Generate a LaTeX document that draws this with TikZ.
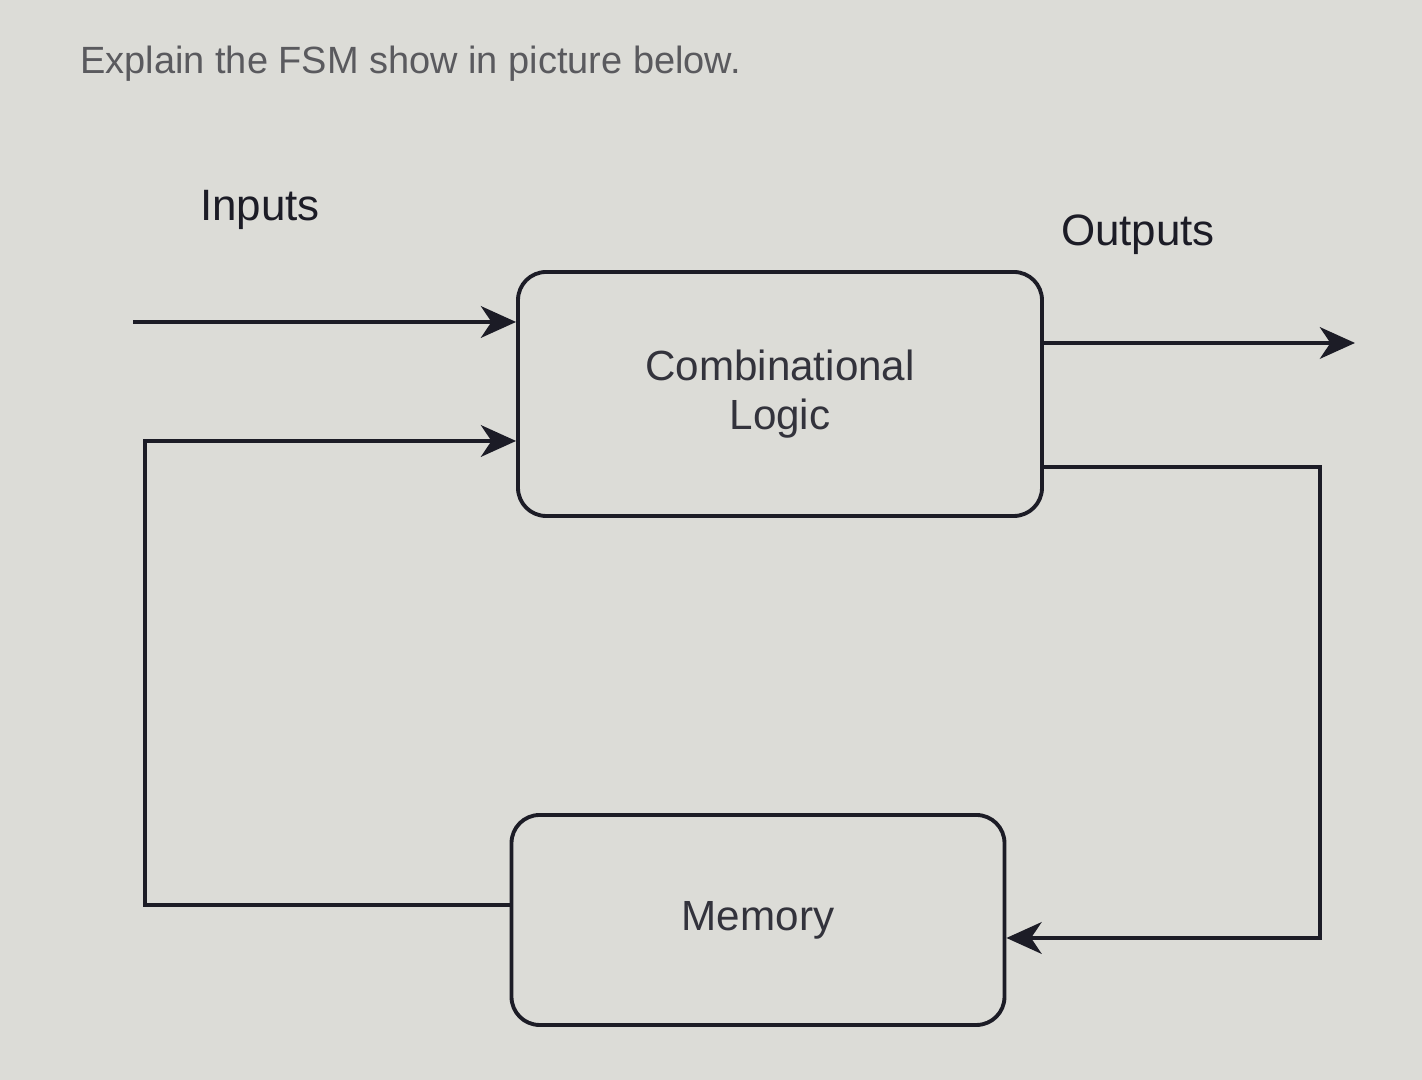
\documentclass[tikz,border=0pt]{standalone}
\usepackage{fontspec}
\setmainfont{Liberation Sans}
\usepackage{tikz}
\usetikzlibrary{arrows.meta, positioning}
\definecolor{screenbg}{HTML}{DCDCD7}
\definecolor{inkline}{HTML}{1C1C26}
\definecolor{titlegray}{HTML}{5A5A5E}
\tikzset{
  blockbox/.style={rectangle, rounded corners=8pt, draw=inkline, line width=1.1pt,
                   align=center, font=\fontsize{12}{14}\selectfont, text=inkline!90},
  lbl/.style={font=\fontsize{12.5}{14}\selectfont, text=inkline},
  arr/.style={-{Stealth[length=10pt, width=9pt, inset=3pt]}, line width=1.1pt, draw=inkline},
}
\begin{document}
\begin{tikzpicture}
  \fill[screenbg] (0,0) rectangle (14.22,10.80);
  \useasboundingbox (0,0) rectangle (14.22,10.80);

  \node[anchor=west, font=\fontsize{10.8}{13}\selectfont, text=titlegray]
    (title) at (0.68,10.16) {Explain the FSM show in picture below.};

  \node[blockbox, minimum width=5.24cm, minimum height=2.44cm] (comb) at (7.80,6.86)
    {Combinational\\Logic};
  \node[blockbox, minimum width=4.93cm, minimum height=2.10cm] (mem) at (7.58,1.60)
    {Memory};

  \node[lbl] (inlbl) at (2.60,8.70) {Inputs};
  \node[lbl] (outlbl) at (11.38,8.45) {Outputs};

  % free ends of the wires
  \coordinate (instart) at (1.33,7.58);
  \coordinate (outend) at (13.55,7.37);
  \coordinate (fbleft) at (1.45,0);
  \coordinate (fbright) at (13.20,0);

  \draw[arr] (instart) -- (instart -| comb.west);
  \draw[arr] (comb.east |- outend) -- (outend);
  \draw[arr] (mem.west |- 0,1.75) -- (fbleft |- 0,1.75) -- (fbleft |- 0,6.39) -- (comb.west |- 0,6.39);
  \draw[arr] (comb.east |- 0,6.13) -- (fbright |- 0,6.13) -- (fbright |- 0,1.42) -- (mem.east |- 0,1.42);
\end{tikzpicture}
\end{document}
